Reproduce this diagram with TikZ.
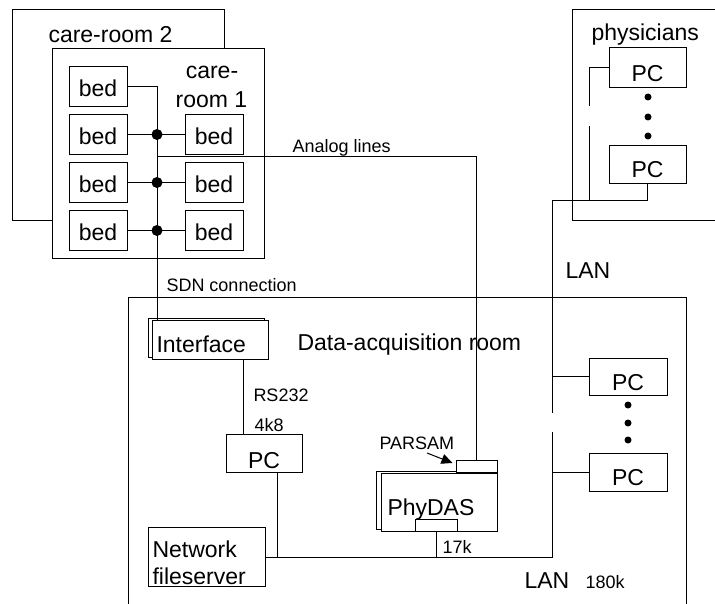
\documentclass[tikz,border=0pt]{standalone}
\usepackage{fontspec}
\setmainfont{Liberation Sans}
\usetikzlibrary{arrows.meta,calc}
\begin{document}
\begin{tikzpicture}[x=1pt,y=-1pt,line width=1pt,
  box/.style={draw,fill=white,inner sep=0pt,line width=1pt},
  big/.style={font=\fontsize{23}{27}\selectfont,inner sep=0pt},
  small/.style={font=\fontsize{18}{21}\selectfont,inner sep=0pt},
  bedbox/.style={box,big,minimum width=58pt,minimum height=39.5pt,text height=21pt,text depth=0pt},
  pcbox/.style={box,big,minimum width=77pt,minimum height=38pt,text height=28pt,text depth=0pt},
  busdot/.style={circle,fill=black,inner sep=0pt,minimum size=11pt},
  pcdot/.style={circle,fill=black,inner sep=0pt,minimum size=7pt},
  lbl/.style={anchor=base west}]
\clip (0,0) rectangle (715,604);

% rooms
\draw (12,10) rectangle (224,221);
\draw[fill=white] (52,49) rectangle (264,259);
\draw (572,10) rectangle (740,221);
\draw (128,640) -- (128,297.5) -- (686,297.5) -- (686,640);

\node[big,lbl] (tcr2) at (48,43) {care-room 2};
\node[big,anchor=base] (tcr1a) at (212,79) {care-};
\node[big,anchor=base] (tcr1b) at (211.5,108) {room 1};
\node[big,lbl] (tphys) at (591,41) {physicians};
\node[big,lbl] (tacq) at (297,350) {Data-acquisition room};

% beds in care-room 1
\node[bedbox] (bL1) at (98,86.5) {bed};
\node[bedbox] (bL2) at (98,134.5) {bed};
\node[bedbox] (bL3) at (98,182.5) {bed};
\node[bedbox] (bL4) at (98,230.5) {bed};
\node[bedbox] (bR2) at (214,134.5) {bed};
\node[bedbox] (bR3) at (214,182.5) {bed};
\node[bedbox] (bR4) at (214,230.5) {bed};

% interface (stacked)
\node[box,minimum width=116pt,minimum height=39pt] (intfB) at (206,337.5) {};
\node[box,minimum width=116pt,minimum height=39pt] (intf) at (210,339.5) {};
\node[big,lbl] (tintf) at (156,352) {Interface};

% bedside bus
\coordinate (busX) at (157,86.5);
\draw (bL1.east) -- (busX) -- (busX |- intf.north);
\foreach \r in {2,3,4}{
  \draw (bL\r.east) -- (bR\r.west);
  \node[busdot] (bd\r) at (busX |- bL\r) {};
}
\coordinate (anaStart) at (157,157);

% PCs
\node[pcbox,minimum width=76pt,text height=30pt] (pcL) at (264,453) {PC};
\node[pcbox,minimum height=40pt] (phA) at (647.5,68) {PC};
\node[pcbox,text height=26pt] (phB) at (647.5,165) {PC};
\node[pcbox,minimum width=78pt,minimum height=37pt,text height=27pt] (acqA) at (628,376.5) {PC};
\node[pcbox,minimum width=78pt,text height=26pt] (acqB) at (628,472) {PC};
\foreach \y [count=\i] in {97,117,136} \node[pcdot] (pd\i) at (648,\y) {};
\foreach \y [count=\i] in {405,423,440} \node[pcdot] (ad\i) at (628,\y) {};

% PhyDAS (stacked) with PARSAM and LAN port
\node[box,minimum width=116pt,minimum height=58pt] (pdB) at (434,500) {};
\node[box,minimum width=116pt,minimum height=58pt] (pd) at (439,502) {};
\node[big,lbl] (tpd) at (387,515) {PhyDAS};
\node[box,minimum width=41pt,minimum height=12pt] (psam) at (476.5,466) {};
\node[draw,inner sep=0pt,minimum width=42pt,minimum height=12pt] (port) at (436,525) {};

% network fileserver
\node[box,minimum width=117pt,minimum height=59pt] (fs) at (206.5,556.5) {};
\node[big,lbl] (tfs1) at (152,557) {Network};
\node[big,lbl] (tfs2) at (152,584) {fileserver};

% analog lines
\draw (anaStart) -| (psam.north);

% serial link
\draw ([xshift=33pt]intf.south) -- ([xshift=33pt]intf.south |- pcL.north);

% LAN
\coordinate (lanT) at (552,201);
\coordinate (lanB) at (552,557);
\coordinate (phG1) at (589,106);
\coordinate (phG2) at (589,126);
\draw (phA.west) -| (phG1);
\draw (phG2) -- (phG2 |- lanT);
\draw (phB.south) |- (lanT) -- (lanT |- 0,413);
\draw (lanT |- 0,432) -- (lanB) -- (lanB -| fs.east);
\draw (acqA.west) -- (acqA.west -| lanT);
\draw (acqB.west) -- (acqB.west -| lanT);
\draw ([xshift=13pt]pcL.south) -- ([xshift=13pt]pcL.south |- lanB);
\draw (port.south) -- (port.south |- lanB);

% PARSAM pointer
\coordinate (parS) at (427,453);
\draw[-{Triangle[length=11pt,width=10pt]}] (parS) -- ([xshift=-3pt,yshift=3pt]psam.west);

% small labels
\node[small,lbl] (tana) at (292,153) {Analog lines};
\node[small,lbl] (tsdn) at (166,291) {SDN connection};
\node[small,lbl] (trs) at (253,401) {RS232};
\node[small,lbl] (t4k8) at (254,431) {4k8};
\node[small,lbl] (tpar) at (379,449) {PARSAM};
\node[small,lbl] (t17k) at (442,553) {17k};
\node[big,lbl] (tlan1) at (565,278) {LAN};
\node[big,lbl] (tlan2) at (524,588) {LAN};
\node[small,lbl] (t180) at (585,588) {180k};
\end{tikzpicture}
\end{document}
